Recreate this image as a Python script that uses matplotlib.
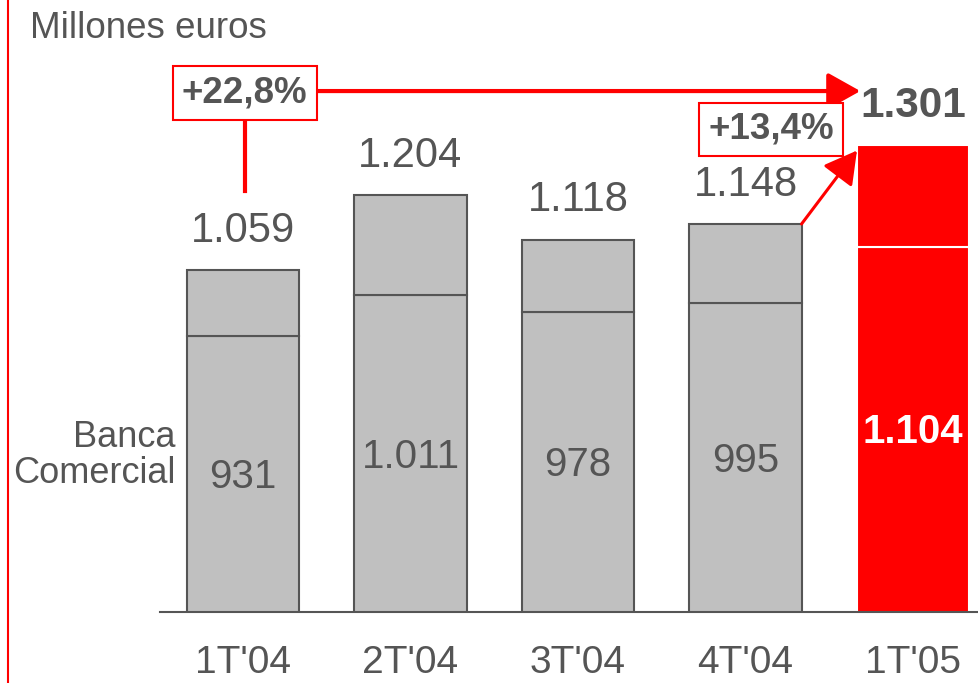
import matplotlib.pyplot as plt
from matplotlib.lines import Line2D

plt.rcParams['font.family'] = ['Liberation Sans', 'DejaVu Sans']

# data
quarters = ["1T'04", "2T'04", "3T'04", "4T'04", "1T'05"]
totals = [1059, 1204, 1118, 1148, 1301]
banca_comercial = [931, 1011, 978, 995, 1104]
total_labels = ["1.059", "1.204", "1.118", "1.148", "1.301"]
inner_labels = ["931", "1.011", "978", "995", "1.104"]
growth_year = "+22,8%"
growth_quarter = "+13,4%"

GRAY = '#c0c0c0'
EDGE = '#555555'
TXT = '#555555'
RED = '#ff0000'

fig = plt.figure(figsize=(9.79, 6.83), dpi=100)
ax = fig.add_axes([160 / 979, 71 / 683, 819 / 979, 612 / 683])

w = 0.669
x = list(range(len(quarters)))
for i in x:
    last = i == len(x) - 1
    fc = RED if last else GRAY
    ec = 'white' if last else EDGE
    lw = 1.5
    ax.bar(i, banca_comercial[i], width=w, color=fc, edgecolor=ec, linewidth=lw, zorder=2)
    ax.bar(i, totals[i] - banca_comercial[i], bottom=banca_comercial[i], width=w,
           color=fc, edgecolor=ec, linewidth=lw, zorder=2)
    # total above bar
    ax.text(i, totals[i] + 76, total_labels[i], ha='center', va='center',
            fontsize=30.5 if last else 30, color=TXT,
            fontweight='bold' if last else 'normal')
    # inner value
    ymid = (398 + banca_comercial[i]) / 2
    ax.text(i, ymid - 6, inner_labels[i], ha='center', va='center',
            fontsize=29, color='white' if last else TXT,
            fontweight='bold' if last else 'normal')

ax.set_xlim(-0.4955, 4.394)
ax.set_ylim(398, 1581)

for s in ['top', 'right', 'left']:
    ax.spines[s].set_visible(False)
ax.spines['bottom'].set_color(EDGE)
ax.spines['bottom'].set_linewidth(1.5)
ax.spines['bottom'].set_zorder(3)
ax.set_yticks([])
ax.set_xticks(x)
ax.set_xticklabels(quarters, fontsize=28, color=TXT)
ax.tick_params(axis='x', length=0, pad=24)

# Banca Comercial label
ax.text(-0.4, 700, "Banca\nComercial", ha='right', va='center', fontsize=26,
        color=TXT, linespacing=1.05)

# units label
fig.text(30 / 979, 1 - 29 / 683, "Millones euros", ha='left', va='center',
         fontsize=26.5, color=TXT)

# year growth box + arrows
box = dict(boxstyle='square,pad=0.25', fc='white', ec=RED, lw=1.5)
ax.text(0.01, 1401, growth_year, ha='center', va='center', fontsize=26.5,
        fontweight='bold', color=TXT, bbox=box, zorder=5)
ax.plot([0.01, 0.01], [1212, 1347], color=RED, lw=3, zorder=4)
ax.annotate('', xy=(4 - w / 2 + 0.02, 1405), xytext=(0.44, 1405),
            arrowprops=dict(arrowstyle='-|>,head_length=0.5,head_width=0.28',
                            color=RED, lw=3, mutation_scale=40, shrinkA=0, shrinkB=0),
            zorder=4)

# quarter growth box + arrow
ax.annotate('', xy=(4 - w / 2, 1290), xytext=(3 + w / 2, 1148),
            arrowprops=dict(arrowstyle='-|>,head_length=0.5,head_width=0.28',
                            color=RED, lw=2.2, mutation_scale=40, shrinkA=0, shrinkB=0),
            zorder=4)
ax.text(3.152, 1331, growth_quarter, ha='center', va='center', fontsize=26.5,
        fontweight='bold', color=TXT, bbox=box, zorder=5)

# left red rule
fig.add_artist(Line2D([8 / 979, 8 / 979], [0, 1], transform=fig.transFigure,
                      color=RED, lw=1.5))

fig.savefig('out.png', dpi=100)
